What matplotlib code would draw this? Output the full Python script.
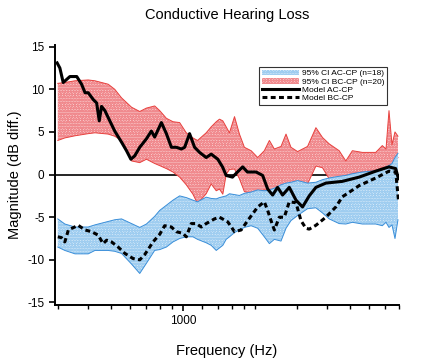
import matplotlib
matplotlib.use("Agg")
import matplotlib.pyplot as plt
from matplotlib.ticker import FixedLocator, NullFormatter, FixedFormatter

plt.rcParams['font.family'] = ['Liberation Sans', 'DejaVu Sans']
plt.rcParams['axes.unicode_minus'] = False
plt.rcParams['hatch.linewidth'] = 1.0

# 95% confidence bands, common frequency grid (Hz)
band_freq = [300, 321, 354, 402, 429, 487, 519, 554, 610, 660, 704, 762, 800, 853,
             909, 969, 1033, 1101, 1151, 1251, 1313, 1378, 1422, 1468, 1516, 1565,
             1643, 1723, 1807, 1928, 2054, 2189, 2298, 2410, 2570, 2697, 2829, 3015,
             3318, 3596, 3831, 4087, 4498, 4795, 5109, 5623, 6395, 6813, 7060, 7266,
             7479, 7697, 7921]
bc_upper = [10.7, 10.8, 11.0, 11.1, 11.0, 10.6, 10.0, 9.0, 7.9, 7.4, 7.8, 8.05, 7.5, 6.6,
            6.2, 6.1, 4.9, 4.3, 4.0, 4.9, 5.6, 6.2, 6.5, 6.3, 5.6, 4.9,
            6.8, 4.75, 3.2, 2.8, 2.0, 2.8, 4.0, 3.0, 3.3, 4.75, 3.2, 2.7,
            3.3, 5.5, 4.35, 3.6, 2.8, 1.6, 2.8, 2.6, 2.6, 3.4, 3.0, 7.5,
            3.5, 5.0, 4.5]
bc_lower = [4.0, 4.3, 4.55, 4.8, 4.9, 4.75, 4.5, 4.0, 1.6, 1.4, 1.8, 1.3, 1.05, 0.7,
            0.3, -0.3, -1.2, -2.3, -3.4, -2.25, -1.1, -1.9, -1.7, -2.3, 0.0, 0.6,
            0.65, -0.5, -2.0, -2.2, -2.0, -1.8, -1.9, -2.3, -2.6, -2.0, -1.8, -1.5,
            -1.1, 1.0, 0.8, -0.5, -0.3, -0.1, 0.1, 0.3, 0.5, 0.8, 0.9, 1.0,
            1.2, 1.5, 2.0]
ac_upper = [-5.2, -5.8, -6.15, -6.15, -5.9, -5.5, -5.3, -5.2, -5.75, -6.2, -5.8, -4.9, -4.2, -3.6,
            -3.0, -2.5, -2.7, -3.0, -3.2, -2.65, -2.8, -2.85, -2.7, -2.6, -2.5, -2.25,
            -2.35, -2.45, -2.2, -2.05, -1.8, -1.9, -1.8, -1.6, -1.2, -1.0, -0.9, -0.7,
            -1.0, -0.9, -0.6, -0.4, -0.2, -0.1, 0.1, 0.3, 0.45, 0.7, 0.9, 1.05,
            1.3, 2.0, 2.5]
ac_lower = [-8.5, -8.9, -9.3, -9.3, -8.9, -8.9, -9.0, -9.25, -10.5, -11.6, -10.4, -8.9, -8.8, -8.5,
            -7.9, -7.5, -7.3, -7.3, -7.6, -8.0, -8.3, -8.9, -8.6, -8.3, -7.6, -7.3,
            -6.8, -6.5, -6.2, -6.0, -6.3, -7.3, -8.1, -7.6, -7.8, -6.3, -5.4, -4.8,
            -4.0, -3.9, -4.5, -5.2, -5.75, -5.8, -5.6, -5.8, -5.8, -6.0, -5.6, -6.2,
            -5.9, -7.5, -5.3]

# Model AC-CP
model_ac_freq = [298, 306, 316, 337, 360, 377, 390, 402, 422, 436, 447, 457, 472, 487, 519,
                 554, 581, 606, 629, 660, 704, 738, 762, 813, 853, 895, 939, 985, 1017,
                 1066, 1119, 1174, 1251, 1313, 1399, 1464, 1516, 1611, 1690, 1778, 1860,
                 2022, 2154, 2261, 2371, 2488, 2610, 2783, 2969, 3162, 3372, 3596, 3958,
                 4629, 5449, 6395, 7266, 7750, 7960]
model_ac_db = [13.1, 12.5, 10.8, 11.5, 11.5, 10.6, 9.6, 9.6, 8.8, 8.4, 6.3, 8.0, 7.5, 6.7, 5.1,
               3.8, 2.8, 1.8, 2.2, 3.2, 4.2, 5.1, 4.4, 6.1, 4.8, 3.2, 3.2, 3.0, 3.2,
               4.8, 3.2, 2.6, 2.0, 2.4, 1.8, 0.9, -0.1, -0.3, 0.3, 0.9, 0.3,
               0.3, -0.1, -1.7, -2.4, -1.5, -2.4, -1.5, -3.0, -3.8, -2.5, -1.5, -1.0,
               -0.8, -0.3, 0.4, 0.9, 0.7, -0.5]

# Model BC-CP
model_bc_freq = [300, 311, 321, 332, 365, 390, 415, 442, 464, 480, 503, 536, 572, 619, 660,
                 692, 750, 800, 839, 895, 939, 1000, 1033, 1084, 1137, 1193, 1251, 1355,
                 1422, 1540, 1643, 1751, 1865, 2054, 2189, 2260, 2335, 2410, 2529, 2653,
                 2783, 2969, 3114, 3267, 3372, 3596, 3958, 4356, 4642, 5449, 6395, 7266,
                 7750, 7960]
model_bc_db = [-7.3, -7.4, -7.9, -6.5, -5.95, -6.5, -6.7, -7.1, -8.1, -7.7, -7.9, -8.5, -9.25, -9.85, -10.0,
               -9.4, -7.9, -7.0, -6.0, -6.15, -6.7, -6.9, -7.3, -5.75, -5.75, -6.15, -5.75, -5.2,
               -5.0, -5.55, -6.7, -6.5, -5.4, -3.8, -3.2, -4.2, -5.4, -6.5, -5.0, -5.0,
               -3.2, -3.3, -5.4, -6.3, -6.4, -5.95, -5.0, -3.8, -2.6, -1.3, -0.4, 0.4,
               0.3, -3.0]

fig = plt.figure(figsize=(4.29, 3.64), dpi=100)
ax = fig.add_axes([55 / 429, 59 / 364, 344 / 429, 260 / 364])

ax.axhline(0, color='black', linewidth=1.2, zorder=1)

# dotted bands: light base colour, dot hatch on top, thin coloured outline
red_band = ax.fill_between(band_freq, bc_lower, bc_upper, facecolor='#fbd3d4',
                           edgecolor='#f08a8e', hatch='oooooo', linewidth=0, zorder=2,
                           label='95% CI BC-CP (n=20)')
ax.plot(band_freq, bc_upper, color='#e8423f', linewidth=0.7, zorder=2.05)
ax.plot(band_freq, bc_lower, color='#e8423f', linewidth=0.7, zorder=2.05)
blue_band = ax.fill_between(band_freq, ac_lower, ac_upper, facecolor='#dcedfa',
                            edgecolor='#9fcdf0', hatch='oooooo', linewidth=0, zorder=2.1,
                            label='95% CI AC-CP (n=18)')
ax.plot(band_freq, ac_upper, color='#3b8fd9', linewidth=0.7, zorder=2.15)
ax.plot(band_freq, ac_lower, color='#3b8fd9', linewidth=0.7, zorder=2.15)

ac_line, = ax.plot(model_ac_freq, model_ac_db, color='black', linewidth=2.2, zorder=3,
                   label='Model AC-CP')
bc_line, = ax.plot(model_bc_freq, model_bc_db, color='black', linewidth=2.2, zorder=3,
                   dashes=(1.6, 1.1), label='Model BC-CP')

ax.set_xscale('log')
ax.set_xlim(292, 8000)
ax.set_ylim(-15.3, 15.2)
ax.xaxis.set_major_locator(FixedLocator([1000]))
ax.xaxis.set_major_formatter(FixedFormatter(['1000']))
ax.xaxis.set_minor_locator(FixedLocator([300, 400, 500, 600, 700, 800, 900, 1200, 1400, 1600,
                                         1800, 2000, 3000, 4000, 5000, 6000, 7000, 8000]))
ax.xaxis.set_minor_formatter(NullFormatter())
ax.set_yticks([-15, -10, -5, 0, 5, 10, 15])

for side in ['top', 'right']:
    ax.spines[side].set_visible(False)
for side in ['left', 'bottom']:
    ax.spines[side].set_linewidth(1.4)
ax.tick_params(axis='both', which='major', direction='out', length=4, width=1.2, labelsize=8.5)
ax.tick_params(axis='x', which='minor', direction='out', length=3, width=1.0)

ax.set_title('Conductive Hearing Loss', fontsize=10.5, pad=19)
ax.set_xlabel('Frequency (Hz)', fontsize=10.5, labelpad=12)
ax.set_ylabel('Magnitude (dB diff.)', fontsize=10.5, labelpad=4)

leg = ax.legend(handles=[blue_band, red_band, ac_line, bc_line], loc='upper right',
                bbox_to_anchor=(0.965, 0.915), fontsize=6, frameon=True, fancybox=False,
                handlelength=4.4, labelspacing=0.05, borderpad=0.3, handletextpad=0.4,
                borderaxespad=0)
leg.get_frame().set_edgecolor('black')
leg.get_frame().set_linewidth(0.8)

fig.savefig('out.png', dpi=100)
